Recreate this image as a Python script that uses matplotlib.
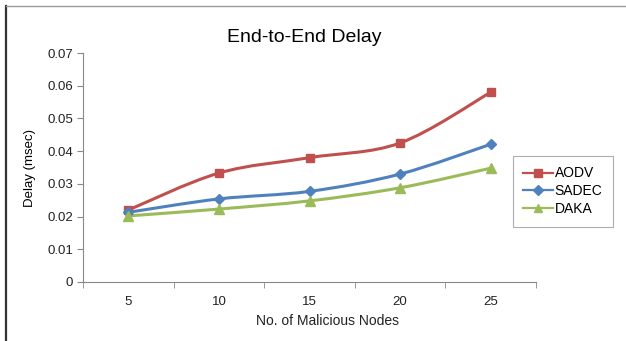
import matplotlib
matplotlib.use("Agg")
import matplotlib.pyplot as plt
from matplotlib.path import Path
from matplotlib.patches import PathPatch
from matplotlib.lines import Line2D
import numpy as np

plt.rcParams["font.family"] = ["Liberation Sans", "DejaVu Sans"]

nodes = [5, 10, 15, 20, 25]
aodv = [0.022, 0.0333, 0.0380, 0.0425, 0.0580]
sadec = [0.0213, 0.0254, 0.0277, 0.0330, 0.0421]
daka = [0.0202, 0.0223, 0.0248, 0.0288, 0.0348]

series = [
    ("AODV", aodv, "#C0504D", "s", 6),
    ("SADEC", sadec, "#4F81BD", "D", 5.5),
    ("DAKA", daka, "#9BBB59", "^", 7),
]


def smooth_path(xs, ys, tension=1 / 6):
    # Catmull-Rom style bezier through the points (like Excel "smoothed line")
    xs = np.asarray(xs, float)
    ys = np.asarray(ys, float)
    n = len(xs)
    verts = [(xs[0], ys[0])]
    codes = [Path.MOVETO]
    for i in range(n - 1):
        p0 = (xs[max(i - 1, 0)], ys[max(i - 1, 0)])
        p1 = (xs[i], ys[i])
        p2 = (xs[i + 1], ys[i + 1])
        p3 = (xs[min(i + 2, n - 1)], ys[min(i + 2, n - 1)])
        c1 = (p1[0] + (p2[0] - p0[0]) * tension, p1[1] + (p2[1] - p0[1]) * tension)
        c2 = (p2[0] - (p3[0] - p1[0]) * tension, p2[1] - (p3[1] - p1[1]) * tension)
        verts += [c1, c2, p2]
        codes += [Path.CURVE4] * 3
    return Path(verts, codes)


fig = plt.figure(figsize=(6.26, 3.41), dpi=100)
ax = fig.add_axes([83 / 626, 1 - 282 / 341, (536 - 83) / 626, (282 - 53) / 341])

for name, vals, color, marker, ms in series:
    ax.add_patch(PathPatch(smooth_path(nodes, vals), facecolor="none",
                           edgecolor=color, lw=2.2, zorder=2))
    ax.plot(nodes, vals, linestyle="none", marker=marker, color=color,
            markersize=ms, zorder=3)

ax.set_xlim(2.5, 27.5)
ax.set_ylim(0, 0.07)
ax.set_yticks(np.arange(0, 0.071, 0.01))
ax.set_yticklabels(["0"] + [f"{v:.2f}" for v in np.arange(0.01, 0.071, 0.01)])
ax.set_xticks(nodes)
ax.set_xticks([2.5, 7.5, 12.5, 17.5, 22.5, 27.5], minor=True)
ax.tick_params(axis="x", which="major", length=0, pad=10)
ax.tick_params(axis="x", which="minor", length=4, color="#888888", direction="out")
ax.tick_params(axis="y", length=4, color="#888888", direction="out", pad=3)
ax.tick_params(labelsize=9.5, labelcolor="#222222")
for s in ["top", "right"]:
    ax.spines[s].set_visible(False)
for s in ["left", "bottom"]:
    ax.spines[s].set_color("#888888")
    ax.spines[s].set_linewidth(0.8)

ax.set_ylabel("Delay (msec)", fontsize=9.5, labelpad=8)
fig.text(328 / 626, 1 - 321 / 341, "No. of Malicious Nodes", ha="center", va="center",
         fontsize=10, color="#222222")
fig.text(304 / 626, 1 - 38 / 341, "End-to-End Delay", ha="center", va="center", fontsize=14)

handles = [Line2D([0], [0], color=c, marker=m, markersize=ms * 0.85, lw=1.6)
           for _, _, c, m, ms in series]
leg = fig.legend(handles, [s[0] for s in series], loc="upper left",
                 bbox_to_anchor=(513 / 626, 1 - 156 / 341), fontsize=10,
                 frameon=True, fancybox=False, edgecolor="#999999",
                 handlelength=2.1, handletextpad=0.15, borderaxespad=0,
                 labelspacing=0.28, borderpad=0.75)
leg.get_frame().set_linewidth(0.8)

# page frame lines
fig.add_artist(Line2D([6 / 626, 6 / 626], [0, 1 - 6 / 341], transform=fig.transFigure,
                      color="#333333", lw=1.6))
fig.add_artist(Line2D([6 / 626, 1], [1 - 6 / 341, 1 - 6 / 341], transform=fig.transFigure,
                      color="#999999", lw=1.0))

fig.savefig("out.png", dpi=100)
